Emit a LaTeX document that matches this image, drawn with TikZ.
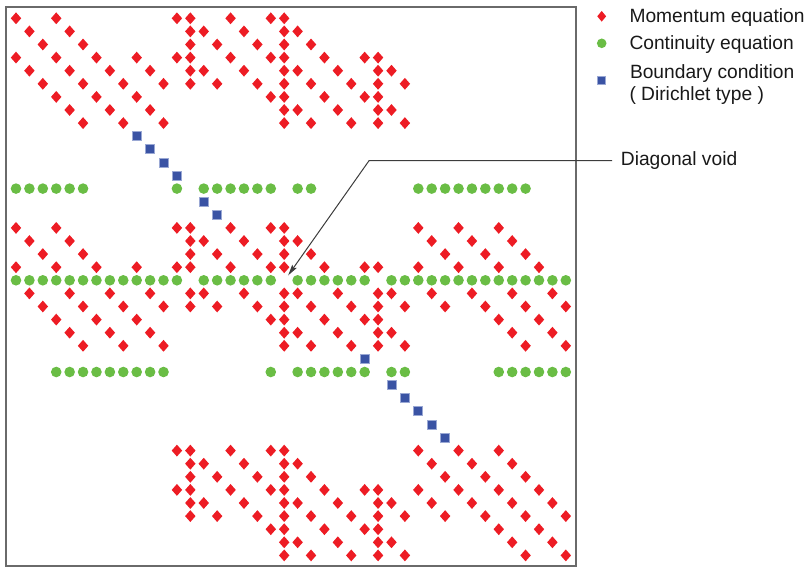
\documentclass[tikz,border=0pt]{standalone}
\usepackage{fontspec}
\setmainfont{Liberation Sans}
\usetikzlibrary{shapes.geometric,arrows.meta}

\definecolor{momred}{HTML}{ED1C24}
\definecolor{congreen}{HTML}{6ABD45}
\definecolor{bcblue}{HTML}{3A53A4}
\definecolor{bcedge}{HTML}{9AA8D4}
\definecolor{framegray}{HTML}{6A6A6A}
\definecolor{calloutgray}{HTML}{3C3C3C}

% grid position of matrix entry (row, column)
\newcommand\colx[1]{16+13.41*#1}
\newcommand\rowy[1]{18.3+13.1*#1}

\begin{document}
\begin{tikzpicture}[x=1pt,y=-1pt,
  momentum/.style={diamond,fill=momred,inner sep=0pt,minimum width=10.6pt,minimum height=12pt},
  continuity/.style={circle,fill=congreen,inner sep=0pt,minimum size=10.6pt},
  boundary/.style={rectangle,fill=bcblue,draw=bcedge,line width=0.7pt,inner sep=0pt,minimum size=9pt},
  legendtext/.style={anchor=base west,inner sep=0pt,text=black!90,font=\fontsize{19.2}{23}\selectfont},
  callout/.style={draw=calloutgray,line width=1pt},
  frame/.style={draw=framegray,line width=1.4pt}]
\useasboundingbox (0,0) rectangle (810,567);

% matrix frame
\draw[frame] (6,7) rectangle (576,566);

% momentum equation entries
\foreach \r/\cols in {
  0/{0,3,12,13,16,19,20},
  1/{1,4,13,14,17,20,21},
  2/{2,5,13,15,18,20,22},
  3/{0,3,6,9,12,13,16,19,20,23,26,27},
  4/{1,4,7,10,13,14,17,20,21,24,27,28},
  5/{2,5,8,11,13,15,18,20,22,25,27,29},
  6/{3,6,9,19,20,23,26,27},
  7/{4,7,10,20,21,24,27,28},
  8/{5,8,11,20,22,25,27,29},
  16/{0,3,12,13,16,19,20,30,33,36},
  17/{1,4,13,14,17,20,21,31,34,37},
  18/{2,5,13,15,18,20,22,32,35,38},
  19/{0,3,6,9,12,13,16,19,20,23,26,27,30,33,36,39},
  21/{1,4,7,10,13,14,17,20,21,24,27,28,31,34,37,40},
  22/{2,5,8,11,13,15,18,20,22,25,27,29,32,35,38,41},
  23/{3,6,9,19,20,23,26,27,36,39},
  24/{4,7,10,20,21,24,27,28,37,40},
  25/{5,8,11,20,22,25,27,29,38,41},
  33/{12,13,16,19,20,30,33,36},
  34/{13,14,17,20,21,31,34,37},
  35/{13,15,18,20,22,32,35,38},
  36/{12,13,16,19,20,23,26,27,30,33,36,39},
  37/{13,14,17,20,21,24,27,28,31,34,37,40},
  38/{13,15,18,20,22,25,27,29,32,35,38,41},
  39/{19,20,23,26,27,36,39},
  40/{20,21,24,27,28,37,40},
  41/{20,22,25,27,29,38,41}}
  \foreach \c in \cols
    \node[momentum] (m-\r-\c) at ({\colx{\c}},{\rowy{\r}}) {};

% continuity equation entries
\foreach \r/\cols in {
  13/{0,1,2,3,4,5,12,14,15,16,17,18,19,21,22,30,31,32,33,34,35,36,37,38},
  20/{0,1,2,3,4,5,6,7,8,9,10,11,12,14,15,16,17,18,19,21,22,23,24,25,26,28,29,30,31,32,33,34,35,36,37,38,39,40,41},
  27/{3,4,5,6,7,8,9,10,11,19,21,22,23,24,25,26,28,29,36,37,38,39,40,41}}
  \foreach \c in \cols
    \node[continuity] (c-\r-\c) at ({\colx{\c}},{\rowy{\r}}) {};

% Dirichlet boundary rows (diagonal entries)
\foreach \r in {9,10,11,12,14,15,26,28,29,30,31,32}
  \node[boundary] (b-\r) at ({\colx{\r}},{\rowy{\r}}) {};

% legend
\node[momentum,minimum width=9pt,minimum height=10.8pt] (leg-m) at (601.7,16.3) {};
\node[continuity,minimum size=9.6pt] (leg-c) at (601.7,43.3) {};
\node[boundary,minimum size=8pt,line width=0.5pt] (leg-b) at (601.7,80) {};
\node[legendtext] (leg-mt) at (629.3,22.3) {Momentum equation};
\node[legendtext] (leg-ct) at (629.3,49.5) {Continuity equation};
\node[legendtext] (leg-bt) at (629.8,79) {Boundary condition};
\node[legendtext] (leg-bt2) at (629.3,101) {( Dirichlet type )};

% callout to the empty diagonal entry
\node[legendtext,inner xsep=8.7pt] (dv) at (612,165.7) {Diagonal void};
\coordinate (bendx) at (369,0);
\coordinate (void) at ({\colx{20}+4},{\rowy{20}-5});
\draw[callout,-{Stealth[length=11pt,width=5.5pt,inset=2pt]}]
  (dv.west) -- (bendx |- dv.west) -- (void);
\end{tikzpicture}
\end{document}
